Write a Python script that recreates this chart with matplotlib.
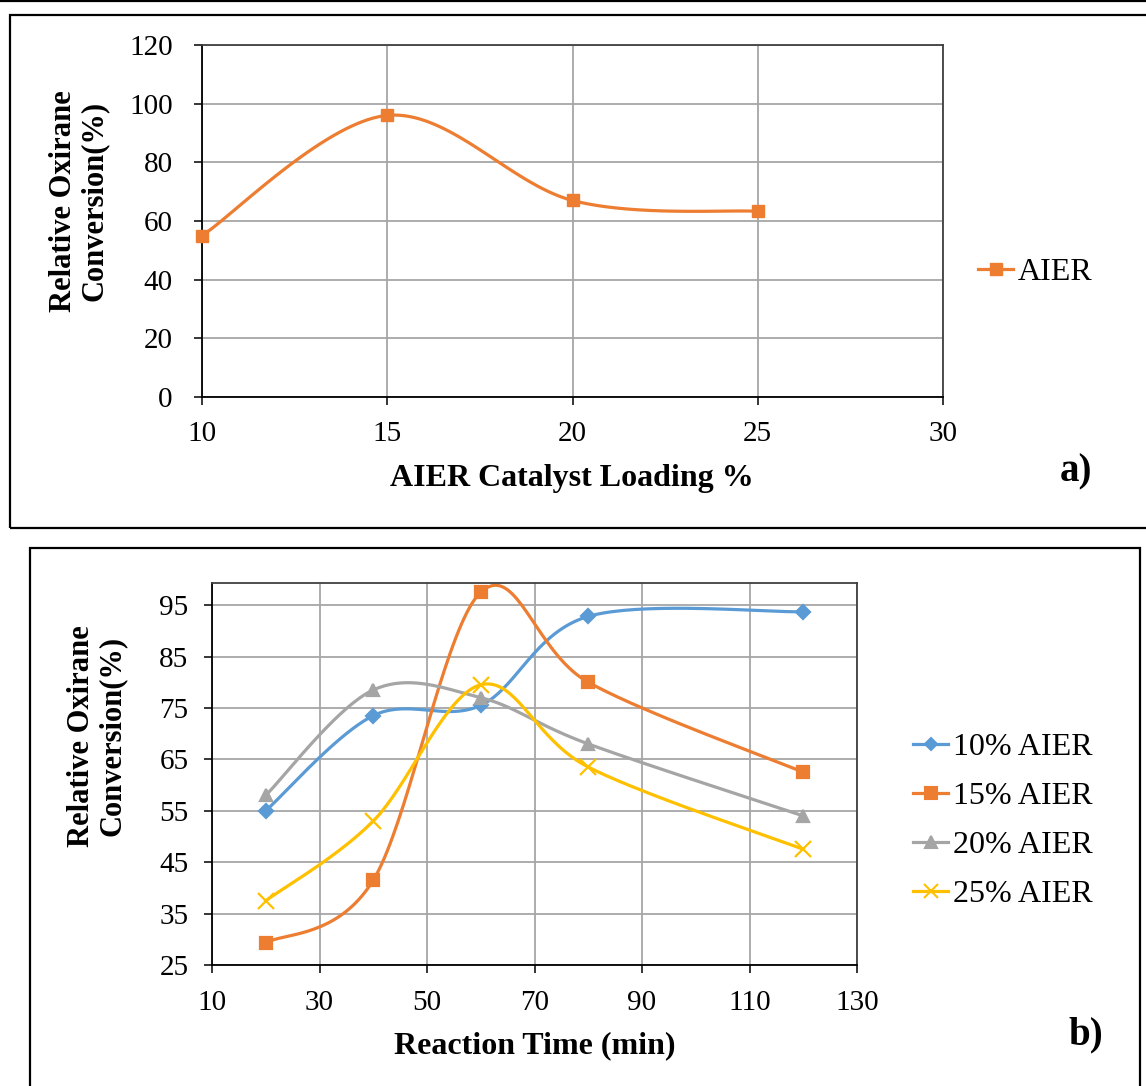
import numpy as np
import matplotlib
matplotlib.use("Agg")
import matplotlib.pyplot as plt
from matplotlib.patches import Rectangle
from matplotlib.lines import Line2D

plt.rcParams['font.family'] = ['Liberation Serif', 'DejaVu Serif']

# ---------------- data ----------------
loading = [10, 15, 20, 25]
conv_a = [55.0, 96.0, 67.0, 63.3]

time_min = [20, 40, 60, 80, 120]
series_names = ["10% AIER", "15% AIER", "20% AIER", "25% AIER"]
s10 = [55.0, 73.5, 75.5, 92.8, 93.7]
s15 = [29.3, 41.5, 97.5, 80.0, 62.5]
s20 = [58.0, 78.5, 77.0, 68.0, 54.0]
s25 = [37.5, 53.0, 79.5, 63.5, 47.5]

xticks_a = [10, 15, 20, 25, 30]
yticks_a = [0, 20, 40, 60, 80, 100, 120]
xticks_b = [10, 30, 50, 70, 90, 110, 130]
yticks_b = [25, 35, 45, 55, 65, 75, 85, 95]

colors = ["#5B9BD5", "#ED7D31", "#A5A5A5", "#FFC000"]
markers = ["D", "s", "^", "x"]
msizes = [7, 9, 9, 11]


def smooth(x, y, n=40):
    """Excel-like smoothed line: Catmull-Rom style cubic Bezier."""
    x = np.asarray(x, float)
    y = np.asarray(y, float)
    P = np.column_stack([x, y])
    out = []
    for i in range(len(P) - 1):
        p0 = P[i - 1] if i > 0 else P[i]
        p1 = P[i]
        p2 = P[i + 1]
        p3 = P[i + 2] if i + 2 < len(P) else P[i + 1]
        c1 = p1 + (p2 - p0) / 6.0
        c2 = p2 - (p3 - p1) / 6.0
        t = np.linspace(0, 1, n)[:, None]
        seg = ((1 - t) ** 3) * p1 + 3 * ((1 - t) ** 2) * t * c1 + 3 * (1 - t) * t ** 2 * c2 + t ** 3 * p2
        if i > 0:
            seg = seg[1:]
        out.append(seg)
    out = np.vstack(out)
    return out[:, 0], out[:, 1]


W, H = 1146, 1086
fig = plt.figure(figsize=(W / 100, H / 100), dpi=100)


def fx(px):
    return px / W


def fy(py):
    return 1 - py / H


def px_rect(x0, y0, x1, y1):
    return Rectangle((fx(x0), fy(y1)), (x1 - x0) / W, (y1 - y0) / H,
                     transform=fig.transFigure, fill=False, edgecolor="black", lw=1.6)


fig.add_artist(px_rect(10, 15, 1170, 528))
fig.add_artist(px_rect(30, 548, 1140, 1110))
fig.add_artist(Line2D([0, 1], [fy(1), fy(1)], transform=fig.transFigure, color="black", lw=1.6))


def style_axes(ax, ypad, xpad):
    ax.grid(True, color="#A6A6A6", lw=1.3)
    ax.set_axisbelow(True)
    for s in ["top", "right"]:
        ax.spines[s].set_color("#404040")
        ax.spines[s].set_linewidth(1.3)
    for s in ["left", "bottom"]:
        ax.spines[s].set_color("black")
        ax.spines[s].set_linewidth(1.3)
    ax.tick_params(direction="out", length=6, width=1.1, labelsize=21, colors="black")
    ax.tick_params(axis="y", pad=ypad)
    ax.tick_params(axis="x", pad=xpad)


YLABEL = "Relative Oxirane\nConversion(%)"

# ---------------- panel a ----------------
ax1 = fig.add_axes([fx(202), fy(397), (943 - 202) / W, (397 - 45) / H])
xs, ys = smooth(loading, conv_a)
ax1.plot(xs, ys, color=colors[1], lw=2.3)
ax1.plot(loading, conv_a, ls="none", marker="s", ms=9, color=colors[1], clip_on=False, zorder=3)
ax1.set_xlim(10, 30)
ax1.set_ylim(0, 120)
ax1.set_xticks(xticks_a)
ax1.set_yticks(yticks_a)
style_axes(ax1, ypad=15, xpad=11)
fig.text(fx(572), fy(479), "AIER Catalyst Loading %", fontsize=23, fontweight="bold",
         ha="center", va="center")
fig.text(fx(79), fy(201), YLABEL, fontsize=22, fontweight="bold", rotation=90,
         ha="center", va="center", multialignment="center", linespacing=1.1)
h_a = [Line2D([], [], color=colors[1], lw=2.3, marker="s", ms=9)]
ax1.legend(h_a, ["AIER"], loc="center left", bbox_to_anchor=(fx(978), fy(272)),
           bbox_transform=fig.transFigure, frameon=False, fontsize=23,
           handlelength=1.1, handletextpad=0.15, borderpad=0, borderaxespad=0)
fig.text(fx(1076), fy(472), "a)", fontsize=28, fontweight="bold", ha="center", va="center")

# ---------------- panel b ----------------
ax2 = fig.add_axes([fx(212), fy(965), (857 - 212) / W, (965 - 583) / H])
handles = []
for vals, c, m, ms, name in zip([s10, s15, s20, s25], colors, markers, msizes, series_names):
    xs, ys = smooth(time_min, vals)
    ax2.plot(xs, ys, color=c, lw=2.3)
    ax2.plot(time_min, vals, ls="none", marker=m, ms=ms, mew=1.6, color=c, zorder=3)
    handles.append(Line2D([], [], color=c, lw=2.3, marker=m, ms=ms - 1, mew=1.5))
ax2.set_xlim(10, 130)
ax2.set_ylim(25, 99.3)
ax2.set_xticks(xticks_b)
ax2.set_yticks(yticks_b)
style_axes(ax2, ypad=11, xpad=12)
fig.text(fx(535), fy(1046), "Reaction Time (min)", fontsize=23, fontweight="bold",
         ha="center", va="center")
fig.text(fx(97), fy(736), YLABEL, fontsize=22, fontweight="bold", rotation=90,
         ha="center", va="center", multialignment="center", linespacing=1.1)
ax2.legend(handles, series_names, loc="center left", bbox_to_anchor=(fx(913), fy(821)),
           bbox_transform=fig.transFigure, frameon=False, fontsize=23,
           handlelength=1.1, handletextpad=0.15, labelspacing=0.62, borderpad=0, borderaxespad=0)
fig.text(fx(1086), fy(1035), "b)", fontsize=28, fontweight="bold", ha="center", va="center")

fig.savefig("out.png", dpi=100, facecolor="white")
